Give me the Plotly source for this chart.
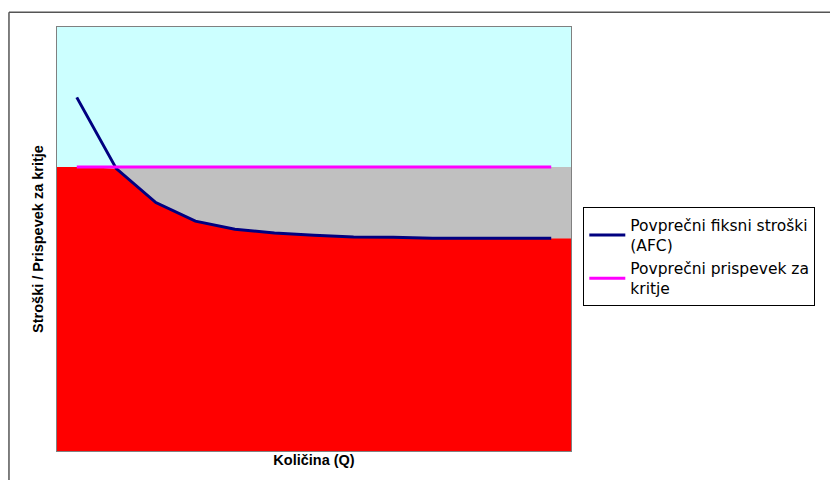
import plotly.graph_objects as go

# Quantity steps (categories) and the two average series
quantity = list(range(1, 14))
afc = [83.4, 66.6, 58.6, 54.2, 52.3, 51.4, 50.9, 50.5, 50.4, 50.2, 50.2, 50.2, 50.2]
contribution = [67.0] * 13

afc_name = "Povprečni fiksni stroški<br>(AFC)"
contrib_name = "Povprečni prispevek za<br>kritje"
x_title = "Količina (Q)"
y_title = "Stroški / Prispevek za kritje"

# Area bands run edge to edge of the category axis
x_band = [quantity[0] - 0.5] + quantity + [quantity[-1] + 0.5]
covered = [min(a, c) for a, c in zip(afc, contribution)]
red_band = [covered[0]] + covered + [covered[-1]]
gray_band = [contribution[0]] + contribution + [contribution[-1]]

fig = go.Figure()
fig.add_trace(go.Scatter(x=x_band, y=red_band, mode="lines", line=dict(width=0),
                         fill="tozeroy", fillcolor="#ff0000", showlegend=False,
                         hoverinfo="skip"))
fig.add_trace(go.Scatter(x=x_band, y=gray_band, mode="lines", line=dict(width=0),
                         fill="tonexty", fillcolor="#c0c0c0", showlegend=False,
                         hoverinfo="skip"))
fig.add_trace(go.Scatter(x=quantity, y=afc, mode="lines", name=afc_name,
                         line=dict(color="#000080", width=3)))
fig.add_trace(go.Scatter(x=quantity, y=contribution, mode="lines", name=contrib_name,
                         line=dict(color="#ff00ff", width=3)))

L, T, PW, PH = 57, 26.7, 513.7, 424.0


def px(x):
    return (x - L) / PW


def py(y):
    return (T + PH - y) / PH


# Outer chart frame (top and left edges visible)
fig.add_shape(type="line", xref="paper", yref="paper", x0=px(9), x1=px(835),
              y0=py(12), y1=py(12), line=dict(color="#555555", width=1.5))
fig.add_shape(type="line", xref="paper", yref="paper", x0=px(9), x1=px(9),
              y0=py(12), y1=py(485), line=dict(color="#555555", width=1.5))

title_font = dict(family="Liberation Sans", size=14.5, weight="bold", color="black")

fig.update_layout(
    width=830, height=480,
    margin=dict(l=L, r=830 - L - PW, t=T, b=480 - T - PH),
    paper_bgcolor="white",
    plot_bgcolor="#ccffff",
    font=dict(family="DejaVu Sans", size=13, color="black"),
    showlegend=True,
    legend=dict(x=px(583), y=py(207), xanchor="left", yanchor="top",
                traceorder="normal",
                bordercolor="black", borderwidth=1, bgcolor="white",
                font=dict(family="DejaVu Sans", size=15.5),
                tracegroupgap=0, itemwidth=36),
    xaxis=dict(range=[0.5, 13.5], showticklabels=False, ticks="", showgrid=False,
               zeroline=False, showline=True, mirror=True, linecolor="#808080",
               linewidth=1,
               title=dict(text=x_title, standoff=3, font=title_font)),
    yaxis=dict(range=[0, 100], showticklabels=False, ticks="", showgrid=False,
               zeroline=False, showline=True, mirror=True, linecolor="#808080",
               linewidth=1,
               title=dict(text=y_title, standoff=8, font=title_font)),
)

fig.write_html("out.html")
